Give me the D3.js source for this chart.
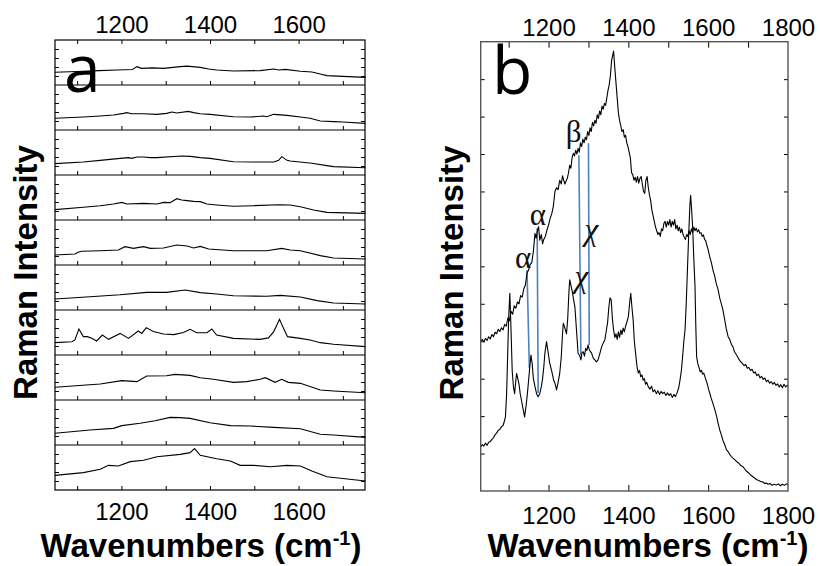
<!DOCTYPE html>
<html><head><meta charset="utf-8">
<script src="https://cdn.jsdelivr.net/npm/d3@7"></script>
<style>body{margin:0;background:#fff}svg{display:block}</style>
</head><body>
<svg id="c" width="820" height="566"></svg>
<script>
// ---------- DATA ----------
// Panel a: ten stacked spectra, [wavenumber, intensity (a.u.)]
const specA1 = [[1050,1.41],[1100,1.5],[1150,1.6],[1190,1.67],[1225,1.72],[1235,2.04],[1245,1.85],[1270,1.9],[1295,1.85],[1333,2.04],[1348,2.1],[1378,1.96],[1397,1.78],[1415,1.67],[1453,1.55],[1513,1.6],[1544,1.78],[1555,1.67],[1570,1.74],[1604,1.52],[1630,1.44],[1649,1.22],[1664,1.04],[1700,0.96],[1751,0.85]];
const specA2 = [[1050,1.3],[1114,1.44],[1152,1.56],[1182,1.67],[1205,1.85],[1212,1.93],[1223,1.81],[1250,1.81],[1280,1.74],[1302,1.85],[1314,2.0],[1325,1.89],[1351,2.07],[1363,1.93],[1378,1.81],[1400,1.74],[1453,1.48],[1491,1.44],[1521,1.56],[1528,1.48],[1544,1.74],[1574,1.63],[1604,1.44],[1626,1.3],[1649,1.0],[1679,0.93],[1700,0.89],[1751,0.74]];
const specA3 = [[1050,1.26],[1114,1.44],[1152,1.63],[1197,1.85],[1216,1.93],[1223,1.85],[1235,2.0],[1250,2.0],[1265,1.93],[1280,1.93],[1336,2.11],[1355,2.07],[1378,1.93],[1400,1.85],[1453,1.48],[1498,1.44],[1544,1.44],[1555,1.63],[1562,2.04],[1574,1.63],[1581,1.56],[1630,1.3],[1664,1.04],[1679,0.93],[1751,0.81]];
const specA4 = [[1050,1.15],[1114,1.41],[1152,1.59],[1182,1.78],[1201,1.96],[1212,1.78],[1250,1.85],[1280,1.78],[1295,1.96],[1310,1.93],[1325,2.37],[1336,2.22],[1348,2.15],[1363,2.07],[1378,2.04],[1393,1.78],[1415,1.67],[1453,1.52],[1498,1.59],[1555,1.7],[1581,1.67],[1604,1.48],[1634,1.11],[1664,0.85],[1751,0.74]];
const specA5 = [[1050,1.11],[1095,1.22],[1102,1.41],[1110,1.52],[1152,1.59],[1193,1.67],[1208,2.04],[1227,1.85],[1250,2.04],[1265,1.85],[1295,1.89],[1325,2.22],[1348,2.11],[1363,1.89],[1378,2.07],[1397,1.78],[1453,1.59],[1528,1.59],[1562,1.85],[1581,1.67],[1604,1.59],[1649,1.04],[1679,0.78],[1751,0.67]];
const specA6 = [[1050,1.22],[1129,1.48],[1197,1.7],[1257,1.96],[1302,1.96],[1344,2.22],[1378,1.93],[1415,1.78],[1453,1.59],[1483,1.56],[1528,1.52],[1559,1.63],[1604,1.44],[1642,1.04],[1679,0.78],[1751,0.67]];
const specA7 = [[1050,1.37],[1088,1.48],[1095,1.67],[1104,2.89],[1114,2.04],[1123,2.04],[1133,1.85],[1144,1.56],[1157,2.22],[1171,1.74],[1197,2.4],[1216,1.85],[1238,2.67],[1246,2.4],[1256,3.04],[1272,2.6],[1295,2.33],[1318,2.26],[1340,2.5],[1355,2.85],[1370,2.48],[1393,2.48],[1404,2.89],[1415,2.22],[1453,1.85],[1513,1.74],[1532,1.9],[1544,2.6],[1557,3.96],[1566,2.96],[1575,2.04],[1604,1.85],[1626,1.67],[1649,1.37],[1679,1.19],[1751,0.93]];
const specA8 = [[1050,1.41],[1152,1.78],[1201,2.15],[1235,2.04],[1257,2.67],[1302,2.7],[1321,2.85],[1355,2.74],[1378,2.48],[1408,2.3],[1453,1.96],[1483,2.04],[1513,2.3],[1525,2.48],[1547,1.96],[1562,2.3],[1577,1.96],[1604,1.85],[1649,1.11],[1679,1.0],[1751,0.81]];
const specA9 = [[1050,1.3],[1129,1.67],[1182,1.85],[1201,2.15],[1242,2.41],[1276,2.7],[1310,3.07],[1333,3.04],[1355,2.96],[1400,2.48],[1446,2.15],[1491,2.11],[1544,1.96],[1604,1.81],[1649,1.19],[1679,1.11],[1751,0.85]];
const specA10 = [[1050,1.63],[1114,1.93],[1152,2.3],[1171,2.74],[1193,2.67],[1220,3.15],[1250,3.3],[1280,3.7],[1333,3.96],[1355,4.15],[1365,4.6],[1378,3.85],[1415,3.48],[1446,3.22],[1468,2.74],[1498,2.74],[1536,2.59],[1574,2.74],[1604,2.67],[1630,2.11],[1664,1.48],[1751,1.0]];
const spectraA = [specA1,specA2,specA3,specA4,specA5,specA6,specA7,specA8,specA9,specA10];

// Panel b: two spectra (noise included by eye)
const specBUpper = [[1030,3.99],[1034,4.05],[1038,3.98],[1042,4.08],[1046,4.02],[1050,4.12],[1054,4.06],[1058,4.18],[1062,4.12],[1066,4.24],[1070,4.2],[1074,4.32],[1078,4.26],[1082,4.36],[1086,4.3],[1090,4.45],[1094,4.4],[1098,4.62],[1102,4.55],[1106,4.8],[1110,4.72],[1114,4.95],[1118,4.88],[1122,5.05],[1126,5.0],[1130,5.22],[1134,5.18],[1138,5.4],[1142,5.5],[1146,5.82],[1150,5.9],[1154,6.05],[1158,6.1],[1162,6.4],[1166,6.88],[1169,6.75],[1172,6.95],[1175,7.06],[1178,6.7],[1182,6.85],[1185,6.6],[1188,6.72],[1192,6.8],[1196,6.97],[1200,7.1],[1204,7.28],[1208,7.4],[1212,7.6],[1216,8.0],[1220,8.1],[1224,8.05],[1228,8.3],[1232,8.2],[1235,8.42],[1238,8.3],[1241,8.2],[1244,8.28],[1247,8.35],[1250,8.5],[1253,8.7],[1256,8.62],[1259,8.9],[1262,9.02],[1265,8.95],[1268,9.1],[1271,9.0],[1274,9.15],[1277,9.05],[1280,9.3],[1283,9.2],[1286,9.4],[1289,9.3],[1292,9.45],[1295,9.38],[1298,9.6],[1301,9.5],[1304,9.7],[1307,9.6],[1310,9.85],[1313,9.75],[1316,9.9],[1319,9.82],[1322,10.05],[1325,9.95],[1328,10.15],[1331,10.05],[1334,10.28],[1337,10.2],[1340,10.35],[1343,10.3],[1346,10.5],[1349,10.7],[1352,10.85],[1355,11.1],[1358,11.5],[1361,11.65],[1363,11.75],[1366,11.3],[1369,10.9],[1372,10.5],[1375,10.1],[1378,9.9],[1381,9.75],[1384,9.6],[1387,9.65],[1390,9.45],[1393,9.5],[1396,9.3],[1399,9.2],[1402,9.05],[1405,8.9],[1408,8.5],[1411,8.45],[1414,8.3],[1417,8.38],[1420,8.25],[1423,8.4],[1426,8.22],[1429,8.35],[1432,8.4],[1435,8.2],[1438,8.0],[1441,7.95],[1444,8.3],[1447,8.4],[1450,8.1],[1453,7.9],[1456,7.75],[1459,7.5],[1462,7.35],[1465,7.2],[1468,7.05],[1471,6.95],[1474,6.85],[1477,6.9],[1480,6.8],[1483,7.0],[1486,6.95],[1489,7.15],[1492,7.2],[1495,7.05],[1498,7.2],[1501,7.1],[1504,7.25],[1507,7.05],[1510,7.2],[1513,7.1],[1516,7.25],[1519,7.0],[1522,7.1],[1525,6.95],[1528,7.05],[1531,6.9],[1534,7.0],[1537,6.85],[1540,6.78],[1543,6.72],[1546,6.85],[1549,6.8],[1552,6.95],[1555,6.85],[1558,7.0],[1561,6.9],[1564,7.05],[1567,6.95],[1570,7.02],[1573,6.92],[1576,6.98],[1579,6.88],[1582,6.9],[1585,6.8],[1588,6.84],[1591,6.72],[1594,6.68],[1597,6.55],[1600,6.44],[1604,6.25],[1608,6.1],[1612,5.9],[1616,5.75],[1620,5.55],[1625,5.37],[1629,5.15],[1633,5.0],[1637,4.83],[1641,4.6],[1645,4.35],[1650,4.12],[1654,4.05],[1658,3.92],[1662,3.85],[1666,3.72],[1670,3.65],[1674,3.58],[1678,3.5],[1682,3.45],[1686,3.4],[1690,3.35],[1694,3.38],[1698,3.28],[1702,3.3],[1706,3.22],[1710,3.25],[1714,3.15],[1718,3.18],[1722,3.08],[1726,3.12],[1730,3.02],[1734,3.06],[1738,2.98],[1742,3.02],[1746,2.92],[1750,2.96],[1754,2.88],[1758,2.92],[1762,2.85],[1766,2.9],[1770,2.82],[1774,2.86],[1778,2.78],[1782,2.84],[1786,2.76],[1790,2.85],[1794,2.78],[1798,2.82],[1800,2.8]];
const specBLower = [[1030,1.18],[1034,1.24],[1038,1.2],[1042,1.28],[1046,1.22],[1050,1.3],[1054,1.32],[1058,1.38],[1062,1.42],[1066,1.5],[1070,1.55],[1074,1.62],[1078,1.65],[1082,1.72],[1086,1.75],[1089,1.85],[1092,1.98],[1095,2.6],[1097,3.42],[1100,4.6],[1103,5.28],[1106,4.3],[1109,3.2],[1112,2.79],[1115,2.6],[1118,2.95],[1120,3.14],[1123,3.0],[1126,2.85],[1129,2.6],[1132,2.43],[1136,2.2],[1140,1.98],[1144,2.3],[1147,2.6],[1150,2.95],[1153,3.32],[1156,3.63],[1159,3.4],[1162,3.0],[1166,2.79],[1170,2.6],[1174,2.52],[1178,2.6],[1182,2.79],[1185,3.0],[1188,3.3],[1191,3.7],[1195,3.99],[1199,3.7],[1203,3.41],[1207,3.25],[1210,3.1],[1213,2.95],[1216,2.88],[1220,2.7],[1224,2.9],[1228,3.14],[1232,3.6],[1235,4.2],[1237,4.48],[1241,4.35],[1245,4.2],[1248,4.6],[1251,5.3],[1253,5.64],[1256,5.5],[1260,5.3],[1263,5.1],[1266,4.92],[1270,4.3],[1274,3.68],[1278,3.62],[1281,3.5],[1284,3.7],[1287,3.72],[1290,3.6],[1293,3.81],[1296,3.75],[1299,3.9],[1302,3.78],[1305,3.72],[1308,3.68],[1312,3.55],[1316,3.5],[1320,3.45],[1324,3.5],[1328,3.65],[1333,3.85],[1337,3.95],[1341,4.03],[1345,4.3],[1348,4.5],[1351,4.9],[1354,5.16],[1357,5.1],[1360,4.6],[1363,4.3],[1366,4.1],[1369,4.2],[1372,4.05],[1375,4.25],[1378,4.1],[1381,4.3],[1384,4.18],[1387,4.35],[1390,4.25],[1393,4.4],[1396,4.5],[1400,4.66],[1403,5.0],[1406,5.28],[1409,4.9],[1412,4.57],[1415,4.0],[1419,3.59],[1422,3.3],[1425,3.15],[1428,3.22],[1431,3.05],[1434,3.1],[1437,2.96],[1440,3.0],[1443,2.85],[1446,2.9],[1450,2.78],[1454,2.72],[1458,2.8],[1462,2.65],[1466,2.7],[1470,2.6],[1474,2.68],[1478,2.58],[1482,2.66],[1486,2.6],[1490,2.64],[1494,2.55],[1498,2.62],[1502,2.55],[1506,2.6],[1510,2.5],[1514,2.58],[1518,2.52],[1522,2.62],[1526,2.75],[1530,3.0],[1533,3.23],[1536,3.6],[1539,4.0],[1542,4.3],[1545,5.0],[1548,5.9],[1551,6.8],[1554,7.6],[1556,7.9],[1558,7.6],[1561,7.06],[1564,6.2],[1567,5.46],[1569,4.4],[1571,3.59],[1574,3.4],[1577,3.3],[1580,3.18],[1583,3.22],[1586,3.12],[1589,3.15],[1592,3.05],[1595,2.95],[1598,2.85],[1601,2.72],[1604,2.61],[1607,2.5],[1610,2.4],[1613,2.3],[1617,2.16],[1621,2.0],[1625,1.8],[1629,1.63],[1633,1.5],[1637,1.35],[1641,1.25],[1646,1.1],[1650,1.05],[1654,0.98],[1658,0.92],[1662,0.88],[1667,0.83],[1672,0.78],[1677,0.74],[1682,0.68],[1687,0.65],[1692,0.58],[1697,0.52],[1702,0.48],[1707,0.42],[1712,0.38],[1717,0.34],[1722,0.3],[1727,0.28],[1732,0.25],[1737,0.24],[1742,0.2],[1746,0.21],[1750,0.18],[1755,0.2],[1760,0.15],[1765,0.18],[1771,0.16],[1776,0.19],[1781,0.14],[1786,0.18],[1791,0.15],[1796,0.19],[1800,0.16]];

// Blue marker lines: [wnTop, vTop, wnBottom, vBottom]
const markerLines = [[1146,5.9,1152,3.28],[1171.5,7.02,1174,2.61],[1276,8.97,1281,3.63],[1300,9.29,1302,3.9]];
// Greek annotations: [text, wn(center), v(baseline)]
const greekLabels = [["α",1136,5.96],["α",1173,7.1],["β",1263,9.32],["χ",1307,6.7],["χ",1282,5.45]];

const ticksA = [1200,1400,1600];
const minorA = [1100,1200,1300,1400,1500,1600,1700];
const ticksB = [1200,1400,1600,1800];
const minorB = [1100,1200,1300,1400,1500,1600,1700];
const yTicksA = [1,2,3,4];
const yTicksB = [1,2,3,4,5,6,7,8,9,10,11];

// ---------- DRAW ----------
const svg = d3.select("#c");
const tickFont = "Liberation Sans";
const fmt = d3.format("d");

// Panel a
const aL = 55, aR = 365, aT = 40, subH = 45, nSub = 10;
const aB = aT + subH*nSub;
const xA = d3.scaleLinear().domain([1050,1750]).range([aL,aR]);
const gA = svg.append("g");
const line = (xs, ys) => d3.line().x(d=>xs(d[0])).y(d=>ys(d[1]));

spectraA.forEach((spec,i)=>{
  const top = aT + i*subH, bot = top + subH;
  const yS = d3.scaleLinear().domain([0,5]).range([bot,top]);
  gA.append("path").datum(spec).attr("d", line(xA,yS))
    .attr("fill","none").attr("stroke","#000").attr("stroke-width",1.1);
  gA.append("g").attr("transform",`translate(0,${bot})`)
    .call(d3.axisTop(xA).tickValues(minorA).tickSize(4).tickFormat(""))
    .call(g=>g.select(".domain").remove());
  gA.append("g").attr("transform",`translate(${aL},0)`)
    .call(d3.axisRight(yS).tickValues(yTicksA).tickSize(4).tickFormat(""))
    .call(g=>g.select(".domain").remove());
  gA.append("g").attr("transform",`translate(${aR},0)`)
    .call(d3.axisLeft(yS).tickValues(yTicksA).tickSize(4).tickFormat(""))
    .call(g=>g.select(".domain").remove());
  if(i>0) gA.append("line").attr("x1",aL).attr("x2",aR).attr("y1",top).attr("y2",top)
    .attr("stroke","#000").attr("stroke-width",1.2);
});
gA.append("g").attr("transform",`translate(0,${aT})`)
  .call(d3.axisBottom(xA).tickValues(minorA).tickSize(4).tickFormat(""))
  .call(g=>g.select(".domain").remove());
gA.append("rect").attr("x",aL).attr("y",aT).attr("width",aR-aL).attr("height",aB-aT)
  .attr("fill","none").attr("stroke","#000").attr("stroke-width",1.2);
gA.append("g").attr("class","lbl").attr("transform",`translate(0,${aT})`)
  .call(d3.axisTop(xA).tickValues(ticksA).tickSize(0).tickPadding(7).tickFormat(fmt))
  .call(g=>g.select(".domain").remove());
gA.append("g").attr("class","lbl").attr("transform",`translate(0,${aB})`)
  .call(d3.axisBottom(xA).tickValues(ticksA).tickSize(0).tickPadding(13).tickFormat(fmt))
  .call(g=>g.select(".domain").remove());

// Panel b
const bL = 480.7, bR = 788, bT = 41.7, bB = 491;
const xB = d3.scaleLinear().domain([1030,1800]).range([bL,bR]);
const yB = d3.scaleLinear().domain([0,12]).range([bB,bT]);
const gB = svg.append("g");
gB.append("g").selectAll("line").data(markerLines).join("line")
  .attr("x1",d=>xB(d[0])).attr("y1",d=>yB(d[1]))
  .attr("x2",d=>xB(d[2])).attr("y2",d=>yB(d[3]))
  .attr("stroke","#4f81bd").attr("stroke-width",1.6);
[specBUpper,specBLower].forEach(spec=>{
  gB.append("path").datum(spec).attr("d", line(xB,yB))
    .attr("fill","none").attr("stroke","#000").attr("stroke-width",1.1)
    .attr("stroke-linejoin","round");
});
gB.append("g").attr("transform",`translate(0,${bT})`)
  .call(d3.axisBottom(xB).tickValues(minorB).tickSize(6).tickFormat(""))
  .call(g=>g.select(".domain").remove());
gB.append("g").attr("transform",`translate(0,${bB})`)
  .call(d3.axisTop(xB).tickValues(minorB).tickSize(6).tickFormat(""))
  .call(g=>g.select(".domain").remove());
gB.append("g").attr("transform",`translate(${bL},0)`)
  .call(d3.axisRight(yB).tickValues(yTicksB).tickSize(4).tickFormat(""))
  .call(g=>g.select(".domain").remove());
gB.append("g").attr("transform",`translate(${bR},0)`)
  .call(d3.axisLeft(yB).tickValues(yTicksB).tickSize(4).tickFormat(""))
  .call(g=>g.select(".domain").remove());
gB.append("rect").attr("x",bL).attr("y",bT).attr("width",bR-bL).attr("height",bB-bT)
  .attr("fill","none").attr("stroke","#555").attr("stroke-width",1.4);
gB.append("g").attr("class","lbl").attr("transform",`translate(0,${bT})`)
  .call(d3.axisTop(xB).tickValues(ticksB).tickSize(0).tickPadding(6).tickFormat(fmt))
  .call(g=>g.select(".domain").remove());
gB.append("g").attr("class","lbl").attr("transform",`translate(0,${bB})`)
  .call(d3.axisBottom(xB).tickValues(ticksB).tickSize(0).tickPadding(16).tickFormat(fmt))
  .call(g=>g.select(".domain").remove());
gB.append("g").selectAll("text").data(greekLabels).join("text")
  .attr("x",d=>xB(d[1])).attr("y",d=>yB(d[2])).attr("text-anchor","middle")
  .attr("font-family","Liberation Serif").attr("font-size",31)
  .attr("font-style",d=>d[0]==="χ"?"italic":"normal")
  .attr("fill","#111").text(d=>d[0]);

svg.selectAll(".tick line").attr("stroke","#000").attr("stroke-width",1);
svg.selectAll(".lbl").attr("font-family",tickFont).attr("font-size",24);
svg.selectAll(".lbl .tick text").attr("fill","#000");

// panel letters
svg.append("text").attr("x",64).attr("y",91.5).attr("font-family","Open Sans")
  .attr("font-size",66).text("a");
svg.append("text").attr("x",492).attr("y",94).attr("font-family","Open Sans")
  .attr("font-size",66).text("b");

// axis titles
function yTitle(x,y){
  svg.append("text").attr("transform",`translate(${x},${y}) rotate(-90)`)
    .attr("text-anchor","middle").attr("font-family",tickFont).attr("font-weight","bold")
    .attr("font-size",33).text("Raman Intensity");
}
yTitle(37,272.5); yTitle(463,273);
function xTitle(x,y){
  const t = svg.append("text").attr("x",x).attr("y",y).attr("text-anchor","middle")
    .attr("font-family",tickFont).attr("font-weight","bold").attr("font-size",33);
  t.append("tspan").text("Wavenumbers (cm");
  t.append("tspan").attr("dy",-12).attr("font-size",20).text("-1");
  t.append("tspan").attr("dy",12).text(")");
}
xTitle(201,557); xTitle(648,557);
</script>
</body></html>
